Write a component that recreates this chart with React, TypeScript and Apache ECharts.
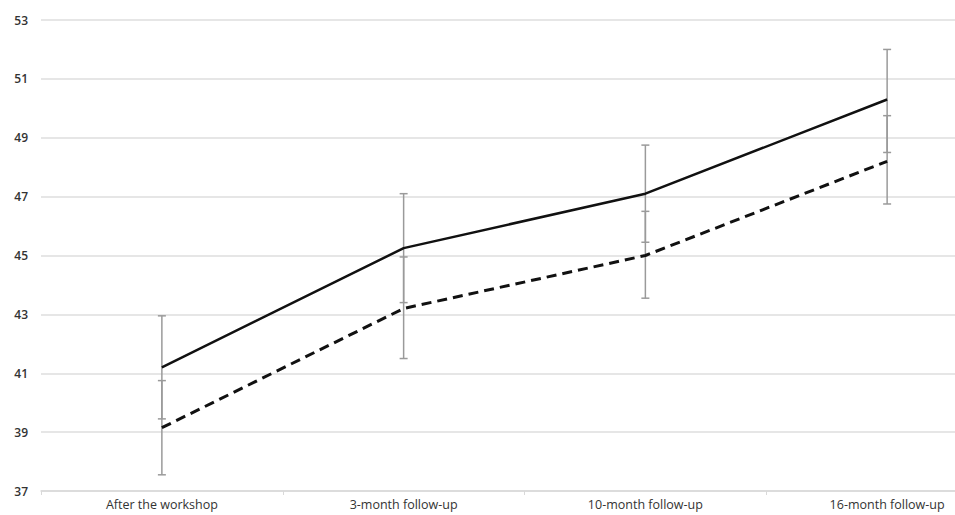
import React, { useEffect, useRef } from "react";
import * as echarts from "echarts";

const categories = ["After the workshop", "3-month follow-up", "10-month follow-up", "16-month follow-up"];
const solidValues = [41.2, 45.25, 47.1, 50.3];
const solidLow = [39.45, 43.4, 45.45, 48.5];
const solidHigh = [42.95, 47.1, 48.75, 52.0];
const dashedValues = [39.15, 43.2, 45.0, 48.2];
const dashedLow = [37.55, 41.5, 43.55, 46.75];
const dashedHigh = [40.75, 44.95, 46.5, 49.75];

export default function App() {
  const ref = useRef<HTMLDivElement>(null);
  useEffect(() => {
    if (!ref.current) return;
    const chart = echarts.init(ref.current, null, { renderer: "svg" });
    const errData = (lo: number[], hi: number[]) => lo.map((l, i) => [i, l, hi[i]]);
    const renderErr = (params: any, api: any) => {
      const x = api.value(0);
      const p1 = api.coord([x, api.value(1)]);
      const p2 = api.coord([x, api.value(2)]);
      const cap = 4;
      const style = { stroke: "#9a9a9a", lineWidth: 1.5 };
      return {
        type: "group",
        children: [
          { type: "line", shape: { x1: p1[0], y1: p1[1], x2: p2[0], y2: p2[1] }, style },
          { type: "line", shape: { x1: p1[0] - cap, y1: p1[1], x2: p1[0] + cap, y2: p1[1] }, style },
          { type: "line", shape: { x1: p2[0] - cap, y1: p2[1], x2: p2[0] + cap, y2: p2[1] }, style },
        ],
      };
    };
    chart.setOption({
      animation: false,
      backgroundColor: "#ffffff",
      grid: { left: 41, top: 20, bottom: 24, right: -53, containLabel: false, outerBoundsMode: "none" },
      xAxis: {
        type: "category",
        data: categories,
        boundaryGap: true,
        axisLine: { show: true, lineStyle: { color: "#d9d9d9", width: 1.5 } },
        axisTick: { show: true, length: 4, lineStyle: { color: "#d9d9d9" } },
        axisLabel: { color: "#333", fontSize: 12.5, fontFamily: "Open Sans", margin: 7 },
        splitLine: { show: false },
      },
      yAxis: {
        type: "value",
        min: 37,
        max: 53,
        interval: 2,
        axisLine: { show: false },
        axisTick: { show: false },
        axisLabel: { color: "#333", fontSize: 12, fontFamily: "Open Sans", fontWeight: 600, margin: 13 },
        splitLine: { lineStyle: { color: "#dedede", width: 1.5 } },
      },
      series: [
        { type: "custom", name: "err1", data: errData(solidLow, solidHigh), renderItem: renderErr, z: 1 },
        { type: "custom", name: "err2", data: errData(dashedLow, dashedHigh), renderItem: renderErr, z: 1 },
        {
          type: "line",
          data: solidValues,
          symbol: "none",
          lineStyle: { color: "#111", width: 2.5, type: "solid" },
          z: 3,
        },
        {
          type: "line",
          data: dashedValues,
          symbol: "none",
          lineStyle: { color: "#111", width: 3, type: [10, 6] },
          z: 3,
        },
      ],
    });
    return () => chart.dispose();
  }, []);
  return <div ref={ref} style={{ width: 955, height: 515, position: "absolute", left: 0, top: 0 }} />;
}
